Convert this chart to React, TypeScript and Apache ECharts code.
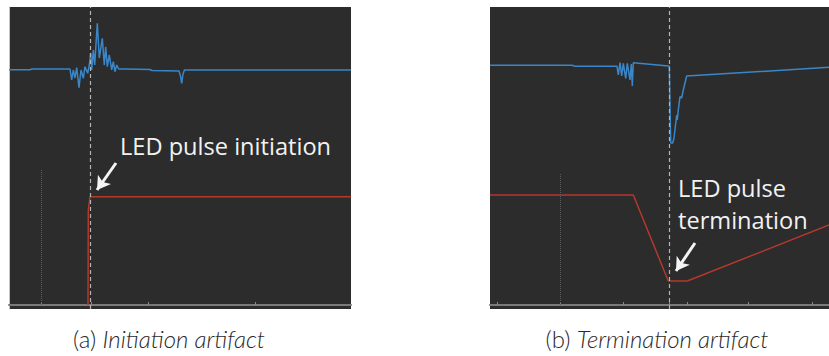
import React, { useEffect, useRef } from "react";
import * as echarts from "echarts";

// Panel (a) – initiation artifact (time units, amplitude units)
const blueA_t = [0, 21, 23, 61, 62.7, 64.3, 66, 67.7, 70, 72, 74.3, 76, 78.7, 80.3, 81.7, 82.7, 84.3, 85.7, 88.3, 90.3, 93.3, 95.3, 96.7, 98.3, 100.3, 102.7, 104.3, 106, 107.7, 109.7, 116, 141, 143, 170, 171.5, 172.7, 174, 175.5, 342];
const blueA_v = [235.3, 235.3, 236, 236, 225, 235, 227, 237.3, 217.3, 235, 226.7, 238.3, 231.7, 240, 252, 235, 255, 240, 281.7, 247, 266.7, 240, 258.3, 238.3, 250, 235, 243.3, 233.3, 240, 236, 236, 235.5, 234.5, 234, 229, 221.7, 231, 235, 235];
const redA_t = [79, 79.3, 80, 81, 342];
const redA_v = [0, 95, 100, 108.3, 108.3];
const ticksA = [32.7, 82, 139, 246];
const markerA = 81.7;
const gateA = 32.7;

// Panel (b) – termination artifact
const blueB_t = [0, 82, 85, 127, 128.3, 130, 131.7, 133.3, 135.7, 137.3, 140, 141.3, 142.3, 143.3, 178.3, 179.3, 180.7, 182.7, 184, 186.7, 187.3, 188.3, 190, 191.7, 193.3, 196.7, 339];
const blueB_v = [239.7, 239.7, 238.7, 238.7, 230, 242.3, 229, 241.7, 226.7, 241.7, 225, 241, 219, 242.3, 239, 239, 162, 162, 167, 190, 185, 195, 208.3, 207, 215, 229, 237.7];
const redB_t = [0, 143.3, 178.3, 197.3, 339];
const redB_v = [110, 110, 24, 24, 80];
const ticksB = [7, 70, 133, 179, 197, 258, 322];
const markerB = 179;
const gateB = 70;

const zip = (t: number[], v: number[]) => t.map((x, i) => [x, v[i]]);

const BLUE = "#3a86c8";
const RED = "#b3392c";
const BG = "#2c2c2c";

function xAxisFor(grid: number, max: number, ticks: number[]) {
  return {
    type: "value",
    gridIndex: grid,
    min: 0,
    max,
    axisLine: { show: true, onZero: true, lineStyle: { color: "#7a7a7a", width: 2 } },
    axisTick: { show: true, inside: true, length: 3, customValues: ticks, lineStyle: { color: "#8a8a8a", width: 1 } },
    axisLabel: { show: false },
    splitLine: { show: false },
  };
}

function yAxisFor(grid: number, showLine: boolean) {
  return {
    type: "value",
    gridIndex: grid,
    min: -4,
    max: 298,
    axisLine: { show: showLine, lineStyle: { color: "#c4c4c4", width: 1 } },
    axisTick: { show: false },
    axisLabel: { show: false },
    splitLine: { show: false },
  };
}

function panelSeries(idx: number, blue: number[][], red: number[][], marker: number, gate: number, gateTop: number, arrow: number[][]) {
  return [
    {
      type: "line",
      xAxisIndex: idx,
      yAxisIndex: idx,
      data: red,
      showSymbol: false,
      lineStyle: { color: RED, width: 1.5 },
      z: 3,
    },
    {
      type: "line",
      xAxisIndex: idx,
      yAxisIndex: idx,
      data: blue,
      showSymbol: false,
      lineStyle: { color: BLUE, width: 1.5 },
      z: 4,
    },
    {
      type: "line",
      xAxisIndex: idx,
      yAxisIndex: idx,
      data: [],
      z: 5,
      markLine: {
        silent: true,
        symbol: "none",
        label: { show: false },
        lineStyle: { color: "#b4b4b4", width: 1.2, type: [4, 3] },
        data: [{ xAxis: marker }],
      },
    },
    {
      type: "line",
      xAxisIndex: idx,
      yAxisIndex: idx,
      data: [],
      z: 2,
      markLine: {
        silent: true,
        symbol: "none",
        label: { show: false },
        lineStyle: { color: "#5c5c5c", width: 1, type: "dotted" },
        data: [[{ coord: [gate, 0] }, { coord: [gate, gateTop] }]],
      },
    },
    {
      type: "line",
      xAxisIndex: idx,
      yAxisIndex: idx,
      data: [],
      z: 6,
      markLine: {
        silent: true,
        symbol: ["none", "arrow"],
        symbolSize: [12, 13],
        label: { show: false },
        lineStyle: { color: "#f4f4f4", width: 3, type: "solid" },
        data: [[{ coord: arrow[0] }, { coord: arrow[1] }]],
      },
    },
  ];
}

export default function App() {
  const ref = useRef<HTMLDivElement>(null);
  useEffect(() => {
    if (!ref.current) return;
    const chart = echarts.init(ref.current, undefined, { renderer: "svg" });
    const annFont = { fontFamily: "Open Sans", fontSize: 23.6, fill: "#f2f2f2" };
    const cap = {
      n: { fontFamily: "Lato", fontWeight: 300, fontSize: 24, fill: "#2a2a2a" },
      i: { fontFamily: "Lato", fontWeight: 300, fontStyle: "italic", fontSize: 24, fill: "#2a2a2a" },
    };
    chart.setOption({
      animation: false,
      backgroundColor: "#ffffff",
      grid: [
        { left: 9, top: 7, width: 342, height: 302, show: true, backgroundColor: BG, borderWidth: 0 },
        { left: 490, top: 7, width: 339, height: 302, show: true, backgroundColor: BG, borderWidth: 0 },
      ],
      xAxis: [xAxisFor(0, 342, ticksA), xAxisFor(1, 339, ticksB)],
      yAxis: [yAxisFor(0, true), yAxisFor(1, false)],
      series: [
        ...panelSeries(0, zip(blueA_t, blueA_v), zip(redA_t, redA_v), markerA, gateA, 135, [[107, 142], [88, 115]]),
        ...panelSeries(1, zip(blueB_t, blueB_v), zip(redB_t, redB_v), markerB, gateB, 131, [[205, 62], [186, 34]]),
      ],
      graphic: [
        { type: "text", x: 120, y: 146, z: 10, style: { ...annFont, text: "LED pulse initiation", verticalAlign: "middle" } },
        { type: "text", x: 678, y: 187.5, z: 10, style: { ...annFont, text: "LED pulse", verticalAlign: "middle" } },
        { type: "text", x: 678, y: 220, z: 10, style: { ...annFont, text: "termination", verticalAlign: "middle" } },
        {
          type: "text",
          x: 169,
          y: 338,
          style: { text: "{n|(a) }{i|Initiation artifact}", align: "center", verticalAlign: "middle", rich: cap },
        },
        {
          type: "text",
          x: 657,
          y: 338,
          style: { text: "{n|(b) }{i|Termination artifact}", align: "center", verticalAlign: "middle", rich: cap },
        },
      ],
    });
    return () => chart.dispose();
  }, []);
  return <div ref={ref} style={{ position: "fixed", left: 0, top: 0, width: 829, height: 356 }} />;
}
